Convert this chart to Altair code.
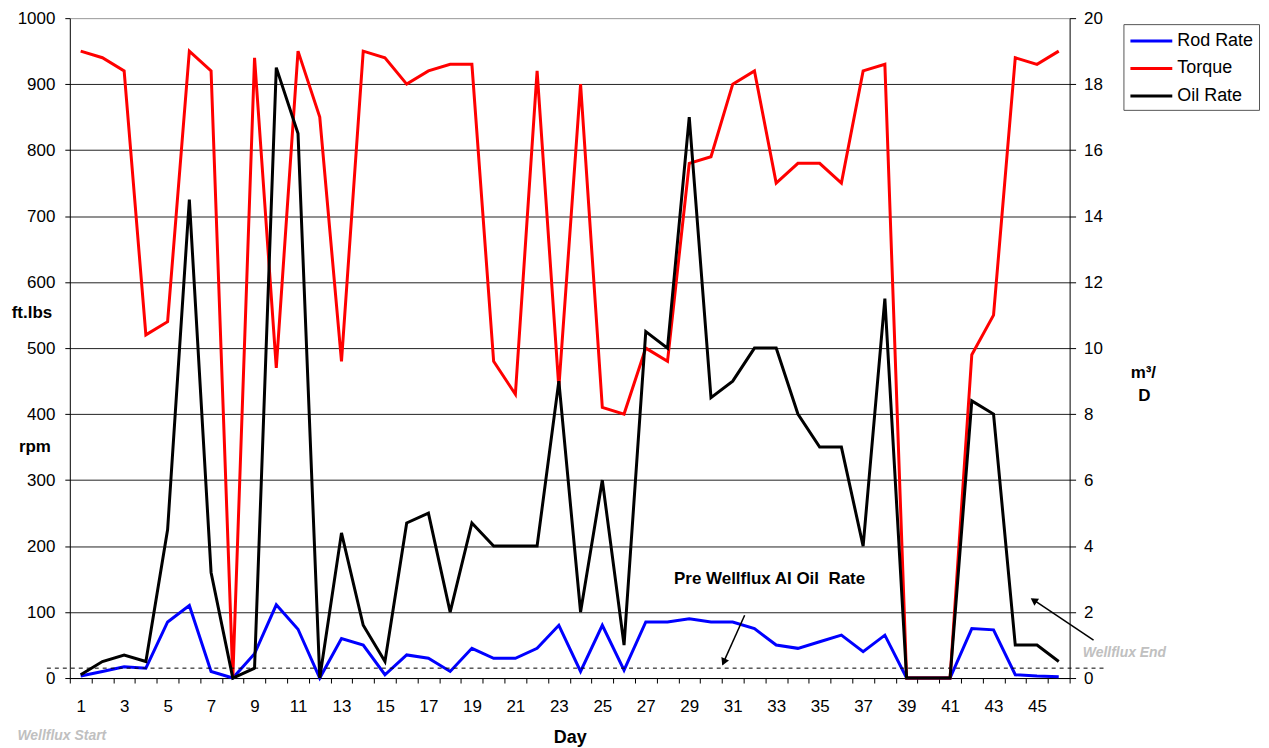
import altair as alt
import pandas as pd

days = list(range(1, 47))
rod_rate = [3, 10, 17, 15, 85, 110, 10, 0, 37, 111, 74, 0, 60, 50, 5, 35, 30, 10, 45, 30,
            30, 45, 80, 10, 80, 12, 85, 85, 90, 85, 85, 75, 50, 45, 55, 65, 40, 65, 0, 0,
            0, 75, 73, 5, 3, 2]
torque = [950, 940, 920, 520, 540, 950, 920, 0, 940, 470, 950, 850, 480, 950, 940, 900, 920, 930, 930, 480,
          430, 920, 440, 900, 410, 400, 500, 480, 780, 790, 900, 920, 750, 780, 780, 750, 920, 930, 0, 0,
          0, 490, 550, 940, 930, 950]
oil_rate = [0.1, 0.5, 0.7, 0.5, 4.5, 14.5, 3.2, 0.0, 0.3, 18.5, 16.5, 0.0, 4.4, 1.6, 0.5, 4.7, 5.0, 2.0, 4.7, 4.0,
            4.0, 4.0, 9.0, 2.0, 6.0, 1.0, 10.5, 10.0, 17.0, 8.5, 9.0, 10.0, 10.0, 8.0, 7.0, 7.0, 4.0, 11.5, 0.0, 0.0,
            0.0, 8.4, 8.0, 1.0, 1.0, 0.5]
pre_wellflux_rate = 15  # on ft.lbs / rpm axis

series_names = ["Rod Rate", "Torque", "Oil Rate"]
series_colors = ["#0000ff", "#ff0000", "#000000"]
left_ticks = list(range(0, 1001, 100))
right_ticks = list(range(0, 21, 2))
x_label_days = [d for d in days if d % 2 == 1 and d < 46]

FONT = "Liberation Sans"

left_df = pd.DataFrame({"Day": days * 2,
                        "value": rod_rate + torque,
                        "series": ["Rod Rate"] * len(days) + ["Torque"] * len(days)})
oil_df = pd.DataFrame({"Day": days, "value": oil_rate, "series": ["Oil Rate"] * len(days)})

label_list = ",".join(str(d) for d in x_label_days)
x_axis = alt.Axis(
    values=[d - 0.5 for d in days] + [days[-1] + 0.5],
    labelExpr=f"indexof([{label_list}], datum.value + 0.5) >= 0 ? format(datum.value + 0.5, 'd') : ''",
    labelOffset=10.9, labelOverlap=False, labelFlush=False,
    tickSize=5, labelPadding=16, labelFontSize=17, labelColor="#000",
    domainColor="#000", tickColor="#000", grid=False,
    title="Day", titleFontSize=18, titleFontWeight="bold", titlePadding=14, titleColor="#000",
)
x_scale = alt.Scale(domain=[0.5, 46.5], nice=False, zero=False)

color_scale = alt.Scale(domain=series_names, range=series_colors)
legend = alt.Legend(
    orient="none", legendX=1057, legendY=6, title=None,
    symbolType="M-2,0L2,0", symbolSize=441, symbolStrokeWidth=3, symbolOffset=11,
    labelFontSize=18, labelFont=FONT, labelColor="#000", labelOffset=14,
    strokeColor="#555", fillColor="#fff", padding=5, rowPadding=6.5,
)

left_lines = alt.Chart(left_df).mark_line(strokeWidth=3).encode(
    x=alt.X("Day:Q", scale=x_scale, axis=x_axis),
    y=alt.Y("value:Q", scale=alt.Scale(domain=[0, 1000], nice=False),
            axis=alt.Axis(values=left_ticks, format="d", title=None, tickSize=5, labelPadding=10,
                          labelFontSize=17, labelColor="#000", domainColor="#000", tickColor="#000",
                          gridColor=alt.condition("datum.value >= 1000", alt.value("#999999"), alt.value("#222222")),
                          gridWidth=1)),
    color=alt.Color("series:N", scale=color_scale, legend=legend, sort=series_names),
    detail="series:N",
)

dash_df = pd.DataFrame({"level": [pre_wellflux_rate]})
dashed = alt.Chart(dash_df).mark_rule(strokeDash=[4, 4], strokeWidth=1, color="#000").encode(
    x=alt.value(-23), x2=alt.value(1040), y=alt.Y("level:Q")
)

left = alt.layer(left_lines, dashed)

oil_line = alt.Chart(oil_df).mark_line(strokeWidth=3).encode(
    x=alt.X("Day:Q", scale=x_scale, axis=x_axis),
    y=alt.Y("value:Q", scale=alt.Scale(domain=[0, 20], nice=False),
            axis=alt.Axis(orient="right", values=right_ticks, title=None, grid=False, tickSize=6,
                          labelPadding=8, labelFontSize=17, labelColor="#000",
                          domainColor="#000", tickColor="#000")),
    color=alt.Color("series:N", scale=color_scale, legend=legend, sort=series_names),
)

def txt(text, x, y, size=16, weight="bold", color="#000", style="normal", align="center"):
    return alt.Chart(pd.DataFrame({"t": [text]})).mark_text(
        fontSize=size, fontWeight=weight, color=color, fontStyle=style, align=align,
        baseline="middle", font=FONT,
    ).encode(text="t:N", x=alt.value(x), y=alt.value(y))

texts = [
    txt("ft.lbs", -38, 296, size=17),
    txt("rpm", -35, 430, size=17),
    txt("m³/", 1077, 356, size=17),
    txt("D", 1078, 379, size=17),
    txt("Pre Wellflux AI Oil\u00a0 Rate", 702, 563, size=17),
    txt("Wellflux Start", -8, 720, size=14, color="#c0c0c0", style="italic"),
    txt("Wellflux End", 1058, 637, size=14, color="#c0c0c0", style="italic"),
]

def arrow(x1, y1, x2, y2, hx, hy, angle):
    seg = alt.Chart(pd.DataFrame({"a": [0]})).mark_rule(color="#000", strokeWidth=1.5).encode(
        x=alt.value(x1), y=alt.value(y1), x2=alt.value(x2), y2=alt.value(y2))
    head = alt.Chart(pd.DataFrame({"a": [0]})).mark_point(
        shape="triangle-up", filled=True, color="#000", size=70, angle=angle, opacity=1).encode(
        x=alt.value(hx), y=alt.value(hy))
    return [seg, head]

arrows = arrow(677, 599, 655, 648, 656, 646, 204) + arrow(1027, 624, 966, 583, 967, 584, 304)

chart = alt.layer(left, oil_line, *texts, *arrows).resolve_scale(y="independent").properties(
    width=1003, height=662,
    autosize=alt.AutoSizeParams(type="none"),
    padding={"left": 62, "top": 9, "right": 192, "bottom": 70},
).configure(font=FONT).configure_view(strokeWidth=0)

chart.save("out.html", embed_options={"renderer": "svg", "actions": False})
